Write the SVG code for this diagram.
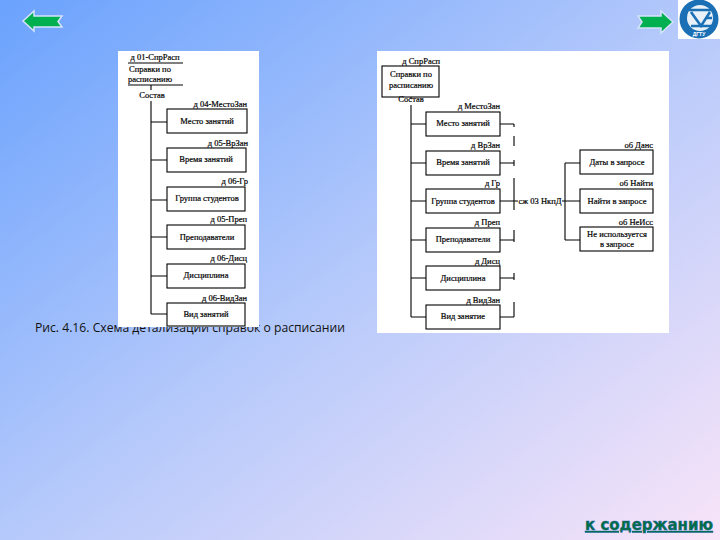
<svg xmlns="http://www.w3.org/2000/svg" width="720" height="540" viewBox="0 0 720 540">
<defs>
<linearGradient id="bg" x1="0" y1="0" x2="1" y2="1"><stop offset="0" stop-color="#6aa2fd"/><stop offset="0.5" stop-color="#b5c9fb"/><stop offset="1" stop-color="#f8e4f8"/></linearGradient>
</defs>
<style>
.n{fill:#fff;stroke:#000;stroke-width:1.1}
.c{fill:none;stroke:#000;stroke-width:1.1}
.t{font-family:"Liberation Serif",serif;font-size:8.5px;fill:#000;stroke:#000;stroke-width:.2;text-anchor:middle}
.l{font-family:"Liberation Serif",serif;font-size:8.5px;fill:#000;stroke:#000;stroke-width:.2;text-anchor:end}
.a{fill:#00b050;stroke:#d5e3fb;stroke-width:1.5}
</style>
<rect width="720" height="540" fill="url(#bg)"/>
<text x="35" y="332" font-family="'Open Sans','DejaVu Sans',sans-serif" font-size="11.8" fill="#111" textLength="310" lengthAdjust="spacingAndGlyphs">Рис. 4.16. Схема детализации справок о расписании</text>
<polygon class="a" points="23,21 34,11 34,16 62,16 58,21.5 62,27 34,27 34,31"/>
<polygon class="a" points="673,22 661,11 661,16 638,16 642,22 638,28 661,28 661,33"/>
<g id="logo"><rect x="678" y="0" width="42" height="39" fill="#fff"/><circle cx="699" cy="19" r="19.5" fill="#1a6fb5"/><circle cx="700" cy="18" r="13" fill="#e8f1f8"/><path d="M689 10H712M691 12L701 26 710 12M691 26H712M706 18H712" fill="none" stroke="#1a6fb5" stroke-width="2.6"/><text x="699" y="36" font-family="'Liberation Sans',sans-serif" font-size="5" font-weight="bold" fill="#fff" text-anchor="middle">ДГТУ</text></g>
<text x="649" y="530" font-family="'DejaVu Sans',sans-serif" font-size="15.5" font-weight="bold" fill="#00703c" stroke="#1f5fa8" stroke-width="0.5" text-decoration="underline" text-anchor="middle" textLength="128" lengthAdjust="spacingAndGlyphs">к содержанию</text>
<rect x="118" y="51" width="141" height="276" fill="#fff"/>
<rect x="377" y="51" width="292" height="282" fill="#fff"/>
<g id="connectors">
<path class="c" stroke-width="1.3" d="M151 85V90M151 101V314M151 122H167M151 160H167M151 200H167M151 237H167M151 276H167M151 314H167"/>
<path class="c" d="M411 97V99M411 105V317M411 124H426M411 163H426M411 201H426M411 240H426M411 278H426M411 317H426"/>
<path class="c" d="M500 124H514M500 163H514M500 201H518M500 240H514M500 278H514M500 317H514M514 124V127M514 136V146M514 160V166M514 178V210M514 230V242M514 273V280M514 302V317"/>
<path class="c" d="M562 201H580M565 163V240M565 163H580M565 240H580"/>
</g>
<g id="n1"><path class="c" d="M128 63H183M128 85H183"/><text class="t" x="150" y="72">Справки по</text><text class="t" x="150" y="82">расписанию</text><text class="t" x="155" y="60">д 01-СпрРасп</text></g>
<text class="t" x="152" y="98">Состав</text>
<g id="n2"><rect class="n" x="167" y="109" width="80" height="24"/><text class="t" x="207" y="124">Место занятий</text><text class="l" x="247" y="107">д 04-МестоЗан</text></g>
<g id="n3"><rect class="n" x="167" y="148" width="79" height="24"/><text class="t" x="206" y="162">Время занятий</text><text class="l" x="248" y="146">д 05-ВрЗан</text></g>
<g id="n4"><rect class="n" x="167" y="187" width="78" height="24"/><text class="t" x="207" y="201">Группа студентов</text><text class="l" x="248" y="184">д 06-Гр</text></g>
<g id="n5"><rect class="n" x="167" y="225" width="78" height="24"/><text class="t" x="207" y="240">Преподаватели</text><text class="l" x="247" y="222">д 05-Преп</text></g>
<g id="n6"><rect class="n" x="167" y="264" width="78" height="24"/><text class="t" x="206" y="278">Дисциплина</text><text class="l" x="247" y="261">д 06-Дисц</text></g>
<g id="n7"><rect class="n" x="167" y="303" width="78" height="23"/><text class="t" x="206" y="317">Вид занятий</text><text class="l" x="247" y="301">д 06-ВидЗан</text></g>
<g id="m1"><rect class="n" x="382" y="66" width="57" height="31"/><text class="t" x="411" y="77">Справки по</text><text class="t" x="411" y="88">расписанию</text><text class="l" x="440" y="64">д СпрРасп</text></g>
<text class="t" x="411" y="102">Состав</text>
<g id="m2"><rect class="n" x="426" y="112" width="74" height="24"/><text class="t" x="463" y="126">Место занятий</text><text class="l" x="500" y="109">д МестоЗан</text></g>
<g id="m3"><rect class="n" x="426" y="151" width="74" height="24"/><text class="t" x="463" y="165">Время занятий</text><text class="l" x="500" y="148">д ВрЗан</text></g>
<g id="m4"><rect class="n" x="426" y="189" width="74" height="24"/><text class="t" x="463" y="204">Группа студентов</text><text class="l" x="500" y="186">д Гр</text></g>
<g id="m5"><rect class="n" x="426" y="228" width="74" height="24"/><text class="t" x="463" y="242">Преподаватели</text><text class="l" x="500" y="225">д Преп</text></g>
<g id="m6"><rect class="n" x="426" y="266" width="74" height="24"/><text class="t" x="463" y="281">Дисциплина</text><text class="l" x="500" y="264">д Дисц</text></g>
<g id="m7"><rect class="n" x="426" y="305" width="74" height="24"/><text class="t" x="463" y="319">Вид занятие</text><text class="l" x="500" y="303">д ВидЗан</text></g>
<text class="t" x="540" y="204">сж 03 НкпД</text>
<g id="r1"><rect class="n" x="580" y="150" width="73" height="24"/><text class="t" x="617" y="165">Даты в запросе</text><text class="l" x="653" y="148">об Данс</text></g>
<g id="r2"><rect class="n" x="580" y="189" width="73" height="24"/><text class="t" x="617" y="204">Найти в запросе</text><text class="l" x="653" y="186">об Найти</text></g>
<g id="r3"><rect class="n" x="580" y="227" width="73" height="24"/><text class="t" x="617" y="237">Не используется</text><text class="t" x="617" y="247">в запросе</text><text class="l" x="653" y="225">об НеИсс</text></g>
</svg>
